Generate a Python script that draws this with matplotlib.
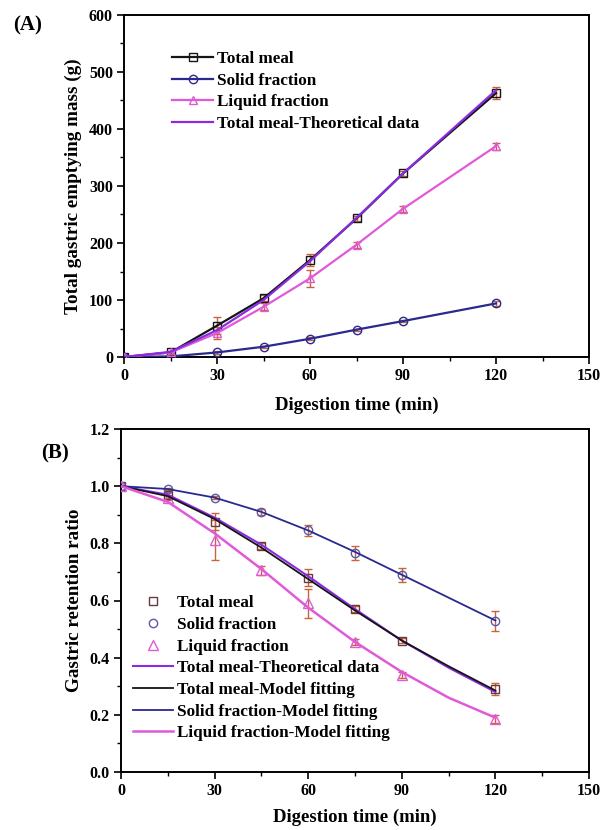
import numpy as np
import matplotlib.pyplot as plt
from matplotlib.ticker import MultipleLocator

plt.rcParams['font.family'] = ['Liberation Serif', 'DejaVu Serif']
plt.rcParams['font.weight'] = 'bold'

# ---- datos panel A (masa vaciada, g) ----
t = [0, 15, 30, 45, 60, 75, 90, 120]
total_A = [0, 8, 55, 103, 170, 243, 322, 463]
total_A_err = [0, 3, 15, 5, 10, 4, 4, 10]
solid_A = [0, 1, 8, 18, 32, 48, 63, 94]
solid_A_err = [0, 1, 2, 2, 3, 2, 2, 4]
liquid_A = [0, 8, 42, 88, 138, 197, 260, 370]
liquid_A_err = [0, 3, 10, 6, 15, 5, 5, 6]
theo_A = [0, 9, 47, 100, 168, 244, 322, 468]

# ---- datos panel B (ratio de retención) ----
total_B = [1.0, 0.97, 0.875, 0.79, 0.68, 0.57, 0.46, 0.29]
total_B_err = [0, 0.01, 0.03, 0.01, 0.03, 0.01, 0.01, 0.02]
solid_B = [1.0, 0.99, 0.96, 0.91, 0.845, 0.765, 0.69, 0.53]
solid_B_err = [0, 0.005, 0.005, 0.01, 0.02, 0.025, 0.025, 0.035]
liquid_B = [1.0, 0.96, 0.81, 0.705, 0.59, 0.455, 0.34, 0.185]
liquid_B_err = [0, 0.01, 0.07, 0.015, 0.05, 0.01, 0.01, 0.015]

t_fit = [0, 15, 30, 45, 60, 75, 90, 105, 120]
theo_B = [1.0, 0.97, 0.89, 0.795, 0.685, 0.57, 0.46, 0.365, 0.28]
total_fit = [1.0, 0.965, 0.885, 0.785, 0.675, 0.565, 0.46, 0.37, 0.285]
solid_fit = [1.0, 0.99, 0.96, 0.91, 0.845, 0.77, 0.69, 0.61, 0.53]
liquid_fit = [1.0, 0.945, 0.835, 0.71, 0.575, 0.455, 0.35, 0.26, 0.19]

c_total = '#151515'
c_solid = '#2a2a8e'
c_liquid = '#e05ad8'
c_theo = '#8a2be2'
c_err = '#c8643c'

fig = plt.figure(figsize=(6.16, 8.30), dpi=100)


def estilo_ejes(ax, ymax, ystep, yminor, fmt, pad_x):
    ax.set_xlim(0, 150)
    ax.set_ylim(0, ymax)
    ax.xaxis.set_major_locator(MultipleLocator(30))
    ax.xaxis.set_minor_locator(MultipleLocator(15))
    ax.yaxis.set_major_locator(MultipleLocator(ystep))
    ax.yaxis.set_minor_locator(MultipleLocator(yminor))
    ax.yaxis.set_major_formatter(fmt)
    ax.tick_params(which='major', direction='out', length=5, width=1.2, labelsize=11.5, pad=3)
    ax.tick_params(which='minor', direction='out', length=3, width=1.0)
    for s in ax.spines.values():
        s.set_linewidth(1.4)
    ax.set_xlabel("Digestion time (min)", fontsize=13.5, fontweight='bold', labelpad=pad_x)


# Panel A
ax1 = fig.add_axes([124/616, 1-357/830, 465/616, 342/830])
for y, e in [(total_A, total_A_err), (solid_A, solid_A_err), (liquid_A, liquid_A_err)]:
    ax1.errorbar(t, y, yerr=e, fmt='none', ecolor=c_err, elinewidth=1, capsize=3, zorder=2)
for y, c, m, lab in [(total_A, c_total, 's', 'Total meal'),
                     (solid_A, c_solid, 'o', 'Solid fraction'),
                     (liquid_A, c_liquid, '^', 'Liquid fraction')]:
    ax1.plot(t, y, color=c, marker=m, mfc='none', mec=c, ms=6, lw=1.6, label=lab, zorder=3)
ax1.plot(t, theo_A, color=c_theo, lw=1.6, label='Total meal-Theoretical data', zorder=3)
estilo_ejes(ax1, 600, 100, 50, '{x:.0f}', 9)
ax1.set_ylabel("Total gastric emptying mass (g)", fontsize=13.8, fontweight='bold', labelpad=5)
ax1.legend(loc='upper left', bbox_to_anchor=(0.089, 0.915), frameon=False, fontsize=12.3,
           handlelength=2.4, handletextpad=0.2, labelspacing=0.33, borderaxespad=0)
fig.text(13/616, 1-25/830, "(A)", fontsize=15, fontweight='bold', va='center')

# Panel B
ax2 = fig.add_axes([121/616, 1-772/830, 468/616, 343/830])
for y, e in [(total_B, total_B_err), (solid_B, solid_B_err), (liquid_B, liquid_B_err)]:
    ax2.errorbar(t, y, yerr=e, fmt='none', ecolor=c_err, elinewidth=1, capsize=3, zorder=2)
ax2.plot(t, total_B, ls='none', marker='s', mfc='none', mec='#6a3a3a', ms=6, label='Total meal', zorder=3)
ax2.plot(t, solid_B, ls='none', marker='o', mfc='none', mec='#5a5aa8', ms=6, label='Solid fraction', zorder=3)
ax2.plot(t, liquid_B, ls='none', marker='^', mfc='none', mec=c_liquid, ms=7, label='Liquid fraction', zorder=3)
ax2.plot(t_fit, theo_B, color=c_theo, lw=1.5, label='Total meal-Theoretical data', zorder=3)
ax2.plot(t_fit, total_fit, color=c_total, lw=1.3, label='Total meal-Model fitting', zorder=3)
ax2.plot(t_fit, solid_fit, color=c_solid, lw=1.3, label='Solid fraction-Model fitting', zorder=3)
ax2.plot(t_fit, liquid_fit, color=c_liquid, lw=1.8, label='Liquid fraction-Model fitting', zorder=3)
estilo_ejes(ax2, 1.2, 0.2, 0.1, '{x:.1f}', 7)
ax2.set_ylabel("Gastric retention ratio", fontsize=13.8, fontweight='bold', labelpad=5)
ax2.legend(loc='upper left', bbox_to_anchor=(0.012, 0.535), frameon=False, fontsize=12.3,
           handlelength=2.3, handletextpad=0.25, labelspacing=0.33, borderaxespad=0)
fig.text(41/616, 1-453/830, "(B)", fontsize=15, fontweight='bold', va='center')

fig.savefig("out.png", dpi=100)
